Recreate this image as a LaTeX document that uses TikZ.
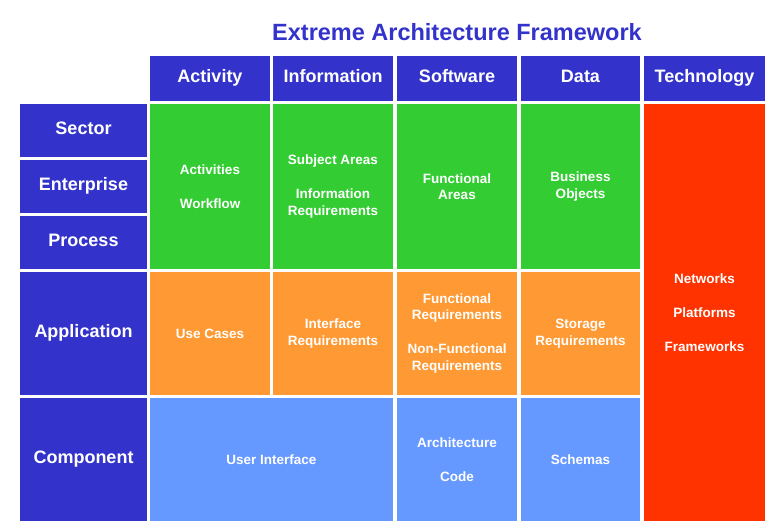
\documentclass[tikz,border=0pt]{standalone}
\usepackage{fontspec}
\setmainfont{Liberation Sans}
\definecolor{hdr}{HTML}{3333CC}
\definecolor{grn}{HTML}{33CC33}
\definecolor{org}{HTML}{FF9933}
\definecolor{lbl}{HTML}{6699FF}
\definecolor{rd}{HTML}{FF3300}
\newcommand\cellbox[7]{\node[cellsty,fill=#6,minimum width={(#4-#2)*1pt},minimum height={(#5-#3)*1pt}] (#1) at ({(#2+#4)/2},{(#3+#5)/2}) {#7};}
\newcommand\hdt[1]{\fontsize{18}{20}\selectfont\strut #1}
\tikzset{cellsty/.style={inner sep=0pt,text=white,align=center,font=\bfseries\fontsize{13.5}{16.5}\selectfont}}
\begin{document}
\begin{tikzpicture}[x=1pt,y=-1pt]
\useasboundingbox (0,0) rectangle (782,528);
\node[text=hdr,font=\bfseries\fontsize{23.5}{26}\selectfont] (title) at (457,32) {Extreme Architecture Framework};
\cellbox{h1}{150}{56}{270}{101}{hdr}{\hdt{Activity}}
\cellbox{h2}{273}{56}{393}{101}{hdr}{\hdt{Information}}
\cellbox{h3}{397}{56}{517}{101}{hdr}{\hdt{Software}}
\cellbox{h4}{521}{56}{640}{101}{hdr}{\hdt{Data}}
\cellbox{h5}{644}{56}{765}{101}{hdr}{\hdt{Technology}}
\cellbox{r1}{20}{104}{147}{157}{hdr}{\hdt{Sector}}
\cellbox{r2}{20}{160}{147}{213}{hdr}{\hdt{Enterprise}}
\cellbox{r3}{20}{216}{147}{269}{hdr}{\hdt{Process}}
\cellbox{r4}{20}{272}{147}{395}{hdr}{\hdt{Application}}
\cellbox{r5}{20}{398}{147}{521}{hdr}{\hdt{Component}}
\cellbox{g1}{150}{104}{270}{269}{grn}{Activities\\[17.5pt]Workflow}
\cellbox{g2}{273}{104}{393}{269}{grn}{Subject Areas\\[17.5pt]Information\\Requirements}
\cellbox{g3}{397}{104}{517}{269}{grn}{Functional\\Areas}
\cellbox{g4}{521}{104}{640}{269}{grn}{Business\\Objects}
\cellbox{o1}{150}{272}{270}{395}{org}{Use Cases}
\cellbox{o2}{273}{272}{393}{395}{org}{Interface\\Requirements}
\cellbox{o3}{397}{272}{517}{395}{org}{Functional\\Requirements\\[17.5pt]Non-Functional\\Requirements}
\cellbox{o4}{521}{272}{640}{395}{org}{Storage\\Requirements}
\cellbox{b1}{150}{398}{393}{521}{lbl}{User Interface}
\cellbox{b2}{397}{398}{517}{521}{lbl}{Architecture\\[17.5pt]Code}
\cellbox{b3}{521}{398}{640}{521}{lbl}{Schemas}
\cellbox{t1}{644}{104}{765}{521}{rd}{Networks\\[17.5pt]Platforms\\[17.5pt]Frameworks}
\end{tikzpicture}
\end{document}
